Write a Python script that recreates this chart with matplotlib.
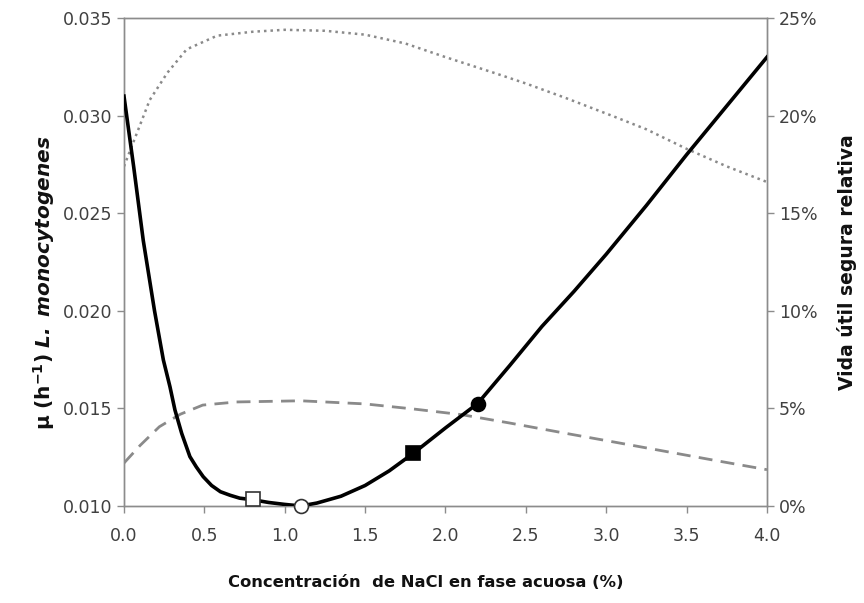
import numpy as np
import matplotlib
matplotlib.use("Agg")
import matplotlib.pyplot as plt
from matplotlib.ticker import FuncFormatter

# growth rate curve (left axis)
nacl_mu = [0, 0.06, 0.12, 0.19, 0.245, 0.286, 0.317, 0.359, 0.41, 0.45, 0.493,
           0.545, 0.6, 0.66, 0.72, 0.8, 0.9, 1.0, 1.1, 1.2, 1.35, 1.5, 1.65, 1.8,
           2.0, 2.2, 2.4, 2.6, 2.8, 3.0, 3.25, 3.5, 3.75, 4.0]
mu = [0.0310, 0.0274, 0.0236, 0.0200, 0.01748, 0.01611, 0.01492, 0.01372, 0.01253,
      0.0120, 0.0115, 0.01105, 0.01073, 0.01055, 0.0104, 0.01032, 0.01018, 0.01008,
      0.0100, 0.01015, 0.0105, 0.01105, 0.0118, 0.0127, 0.0140, 0.01525, 0.0172,
      0.0192, 0.0210, 0.0229, 0.0254, 0.0280, 0.0305, 0.0330]

# relative safe shelf life (right axis, %)
nacl_dot = [0, 0.08, 0.16, 0.27, 0.39, 0.58, 0.8, 1.0, 1.25, 1.5, 1.75, 2.0, 2.3,
            2.5, 2.75, 3.05, 3.25, 3.5, 3.75, 4.0]
life_dot = [17.4, 19.1, 20.8, 22.2, 23.4, 24.1, 24.3, 24.4, 24.35, 24.15, 23.7,
            23.0, 22.2, 21.65, 20.9, 19.95, 19.3, 18.3, 17.4, 16.6]

nacl_dash = [0, 0.1, 0.22, 0.35, 0.49, 0.7, 1.1, 1.5, 1.8, 2.1, 2.4, 2.75, 3.0,
             3.4, 3.7, 4.0]
life_dash = [2.2, 3.1, 4.06, 4.7, 5.17, 5.33, 5.39, 5.23, 4.97, 4.68, 4.25, 3.72,
             3.35, 2.75, 2.3, 1.86]

# highlighted points
pts_x = [0.8, 1.1, 1.8, 2.2]
pts_y = [0.01036, 0.0100, 0.01273, 0.01525]
pts_marker = ["s", "o", "s", "o"]
pts_face = ["white", "white", "black", "black"]

plt.rcParams["font.family"] = ["DejaVu Sans"]
plt.rcParams["mathtext.fontset"] = "dejavusans"
spine_col = "#8c8c8c"
tick_col = "#404040"

fig = plt.figure(figsize=(8.64, 6.03), dpi=100)
ax = fig.add_axes([0.1435, 0.1609, 0.7442, 0.8091])
ax2 = ax.twinx()

ax2.plot(nacl_dot, life_dot, color="#8a8a8a", lw=1.8, linestyle=(0, (1, 1.6)))
ax2.plot(nacl_dash, life_dash, color="#8a8a8a", lw=2.0, linestyle=(0, (5, 3)))
ax.plot(nacl_mu, mu, color="black", lw=2.6, zorder=3, solid_joinstyle="round")
for x, y, m, f in zip(pts_x, pts_y, pts_marker, pts_face):
    ax.plot(x, y, marker=m, markersize=10 if m == "o" else 10.5, markerfacecolor=f,
            markeredgecolor="#333333" if f == "white" else "black", markeredgewidth=1.2,
            linestyle="none", zorder=5, clip_on=False)

ax.set_zorder(ax2.get_zorder() + 1)
ax.patch.set_visible(False)

ax.set_xlim(0, 4.0)
ax.set_ylim(0.010, 0.035)
ax.set_xticks(np.arange(0, 4.01, 0.5))
ax.set_yticks(np.arange(0.010, 0.0351, 0.005))
ax.xaxis.set_major_formatter(FuncFormatter(lambda v, p: f"{v:.1f}"))
ax.yaxis.set_major_formatter(FuncFormatter(lambda v, p: f"{v:.3f}"))
ax2.set_ylim(0, 25)
ax2.set_yticks(range(0, 26, 5))
ax2.yaxis.set_major_formatter(FuncFormatter(lambda v, p: f"{v:.0f}%"))

for a in (ax, ax2):
    for s in a.spines.values():
        s.set_color(spine_col)
        s.set_linewidth(1.0)
    a.tick_params(colors=spine_col, labelcolor=tick_col, labelsize=12.5, length=5, width=1)
ax.tick_params(axis="x", pad=10)

ax.set_xlabel("Concentración  de NaCl en fase acuosa (%)", fontsize=11.8,
              fontweight="bold", labelpad=22, color="#111111")
ax.xaxis.label.set_x(0.47)
ax.set_ylabel(r"$\mathbf{\mu\ (h^{-1})}\ \mathbfit{L.\ monocytogenes}$",
              fontsize=14.5, labelpad=4, color="#111111")
ax.yaxis.label.set_y(0.457)
ax2.set_ylabel("Vida útil segura relativa", fontsize=13.5, fontweight="bold",
               labelpad=14, color="#111111")

fig.savefig("out.png", dpi=100)
